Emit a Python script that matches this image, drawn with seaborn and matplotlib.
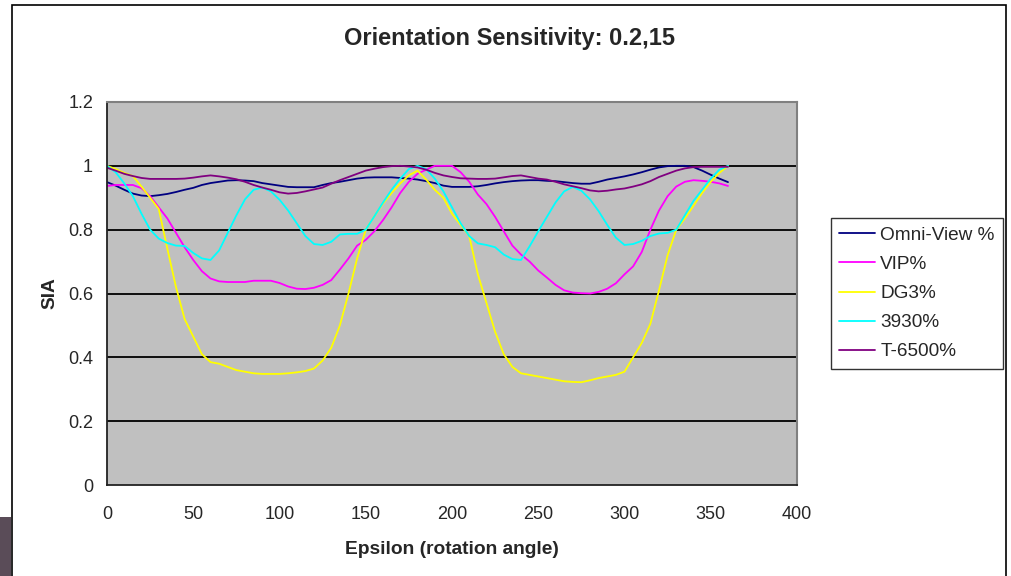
import numpy as np
import pandas as pd
import seaborn as sns
import matplotlib.pyplot as plt
from matplotlib.patches import Rectangle

# rotation angle, every 5 degrees
epsilon = list(range(0, 361, 5))

omni_view = [0.949, 0.938, 0.925, 0.913, 0.907, 0.905, 0.908, 0.912, 0.918, 0.925,
             0.931, 0.940, 0.946, 0.950, 0.954, 0.955, 0.954, 0.952, 0.946, 0.942,
             0.938, 0.934, 0.933, 0.933, 0.933, 0.940, 0.946, 0.950, 0.955, 0.960,
             0.963, 0.964, 0.964, 0.964, 0.962, 0.960, 0.957, 0.952, 0.946, 0.938,
             0.934, 0.934, 0.934, 0.936, 0.940, 0.945, 0.949, 0.952, 0.954, 0.955,
             0.955, 0.953, 0.952, 0.949, 0.946, 0.944, 0.944, 0.950, 0.957, 0.962,
             0.967, 0.973, 0.980, 0.988, 0.995, 0.999, 1.000, 1.000, 0.996, 0.985,
             0.972, 0.960, 0.949]

vip = [0.937, 0.940, 0.940, 0.940, 0.930, 0.905, 0.870, 0.835, 0.790, 0.745,
       0.705, 0.670, 0.647, 0.638, 0.636, 0.636, 0.636, 0.640, 0.640, 0.640,
       0.633, 0.622, 0.615, 0.614, 0.618, 0.627, 0.642, 0.675, 0.710, 0.750,
       0.768, 0.795, 0.830, 0.870, 0.915, 0.950, 0.975, 0.988, 1.000, 1.000,
       1.000, 0.980, 0.950, 0.910, 0.880, 0.840, 0.795, 0.750, 0.722, 0.700,
       0.672, 0.650, 0.627, 0.610, 0.603, 0.601, 0.600, 0.605, 0.615, 0.632,
       0.660, 0.685, 0.730, 0.800, 0.860, 0.905, 0.935, 0.950, 0.955, 0.953,
       0.950, 0.945, 0.937]

dg3 = [1.000, 0.990, 0.978, 0.968, 0.935, 0.900, 0.865, 0.740, 0.620, 0.520,
       0.465, 0.410, 0.385, 0.380, 0.370, 0.360, 0.355, 0.350, 0.348, 0.348,
       0.348, 0.350, 0.353, 0.357, 0.365, 0.390, 0.430, 0.500, 0.600, 0.710,
       0.800, 0.842, 0.882, 0.915, 0.945, 0.970, 0.985, 0.957, 0.925, 0.900,
       0.850, 0.815, 0.780, 0.660, 0.570, 0.480, 0.410, 0.370, 0.350, 0.345,
       0.340, 0.335, 0.330, 0.325, 0.323, 0.322, 0.328, 0.335, 0.340, 0.345,
       0.355, 0.400, 0.445, 0.505, 0.610, 0.720, 0.800, 0.835, 0.875, 0.915,
       0.950, 0.978, 1.000]

s3930 = [1.000, 0.980, 0.945, 0.905, 0.850, 0.800, 0.772, 0.758, 0.750, 0.749,
         0.727, 0.710, 0.705, 0.735, 0.790, 0.845, 0.895, 0.925, 0.932, 0.920,
         0.894, 0.860, 0.820, 0.780, 0.755, 0.752, 0.762, 0.785, 0.787, 0.787,
         0.800, 0.842, 0.885, 0.925, 0.960, 0.990, 1.000, 0.990, 0.960, 0.920,
         0.870, 0.820, 0.780, 0.757, 0.752, 0.745, 0.722, 0.708, 0.705, 0.748,
         0.795, 0.840, 0.885, 0.920, 0.934, 0.922, 0.895, 0.858, 0.815, 0.775,
         0.752, 0.755, 0.765, 0.780, 0.788, 0.790, 0.800, 0.845, 0.890, 0.925,
         0.960, 0.988, 1.000]

t6500 = [0.994, 0.985, 0.975, 0.968, 0.962, 0.959, 0.959, 0.959, 0.959, 0.960,
         0.963, 0.967, 0.970, 0.967, 0.963, 0.958, 0.950, 0.940, 0.932, 0.925,
         0.917, 0.913, 0.915, 0.920, 0.926, 0.932, 0.944, 0.955, 0.965, 0.975,
         0.985, 0.991, 0.996, 0.999, 1.000, 0.998, 0.995, 0.988, 0.978, 0.970,
         0.965, 0.961, 0.960, 0.959, 0.959, 0.960, 0.964, 0.968, 0.970, 0.965,
         0.960, 0.957, 0.950, 0.942, 0.936, 0.930, 0.923, 0.920, 0.922, 0.926,
         0.929, 0.935, 0.942, 0.952, 0.965, 0.975, 0.985, 0.992, 0.996, 0.997,
         0.997, 0.997, 0.997]

series_names = ["Omni-View %", "VIP%", "DG3%", "3930%", "T-6500%"]
series_values = [omni_view, vip, dg3, s3930, t6500]
colors = ["#000080", "#FF00FF", "#FFFF00", "#00FFFF", "#800080"]

# long form table for seaborn
rows = []
for name, vals in zip(series_names, series_values):
    for e, v in zip(epsilon, vals):
        rows.append((e, v, name))
df = pd.DataFrame(rows, columns=["epsilon", "sia", "series"])

sns.set_style("white")
plt.rcParams['font.family'] = ['Liberation Sans', 'DejaVu Sans']

fig = plt.figure(figsize=(10.11, 5.76), dpi=100)
ax = fig.add_axes([107 / 1011, 91 / 576, 690 / 1011, 383 / 576])
ax.set_facecolor("#C0C0C0")

sns.lineplot(data=df, x="epsilon", y="sia", hue="series", hue_order=series_names,
             palette=dict(zip(series_names, colors)), linewidth=1.3, ax=ax,
             sort=False, estimator=None)

ax.set_xlim(0, 400)
ax.set_ylim(0, 1.2)
ax.set_xticks(range(0, 401, 50))
ax.set_yticks([0, 0.2, 0.4, 0.6, 0.8, 1, 1.2])
ax.set_yticklabels(["0", "0.2", "0.4", "0.6", "0.8", "1", "1.2"])
for y in [0.2, 0.4, 0.6, 0.8, 1.0]:
    ax.axhline(y, color="black", linewidth=1.3, zorder=0.5)

ax.tick_params(axis="both", direction="out", length=5, width=1.2, color="#222222",
               labelsize=13)
ax.tick_params(axis="x", pad=10)
ax.tick_params(axis="y", pad=5)
ax.spines["left"].set_color("#222222")
ax.spines["bottom"].set_color("#222222")
ax.spines["left"].set_linewidth(1.3)
ax.spines["bottom"].set_linewidth(1.3)
ax.spines["top"].set_color("#808080")
ax.spines["right"].set_color("#808080")
ax.spines["top"].set_linewidth(1.5)
ax.spines["right"].set_linewidth(1.5)

ax.set_xlabel("Epsilon (rotation angle)", fontsize=13.8, fontweight="bold", labelpad=13)
ax.set_ylabel("SIA", fontsize=13.8, fontweight="bold", labelpad=7)
fig.text(509 / 1011, 1 - 39 / 576, "Orientation Sensitivity: 0.2,15", ha="center",
         va="center", fontsize=17, fontweight="bold")

sns.move_legend(ax, loc="center left", bbox_to_anchor=(1.049, 0.5), title=None,
                frameon=True, fancybox=False, fontsize=13.7, handlelength=1.85,
                labelspacing=0.62, borderpad=0.45, handletextpad=0.3, borderaxespad=0)
leg = ax.get_legend()
leg.get_frame().set_edgecolor("black")
leg.get_frame().set_linewidth(1.0)
for line in leg.get_lines():
    line.set_linewidth(1.3)

# outer chart frame and the scrap of picture at the lower left
fig.patches.append(Rectangle((11.5 / 1011, -0.01), 994 / 1011, 1.01 - 5 / 576,
                             transform=fig.transFigure, fill=False,
                             edgecolor="black", linewidth=1.2))
fig.patches.append(Rectangle((0, 0), 11 / 1011, 59 / 576, transform=fig.transFigure,
                             facecolor="#5a4c58", edgecolor="none"))

fig.savefig("out.png", dpi=100)
